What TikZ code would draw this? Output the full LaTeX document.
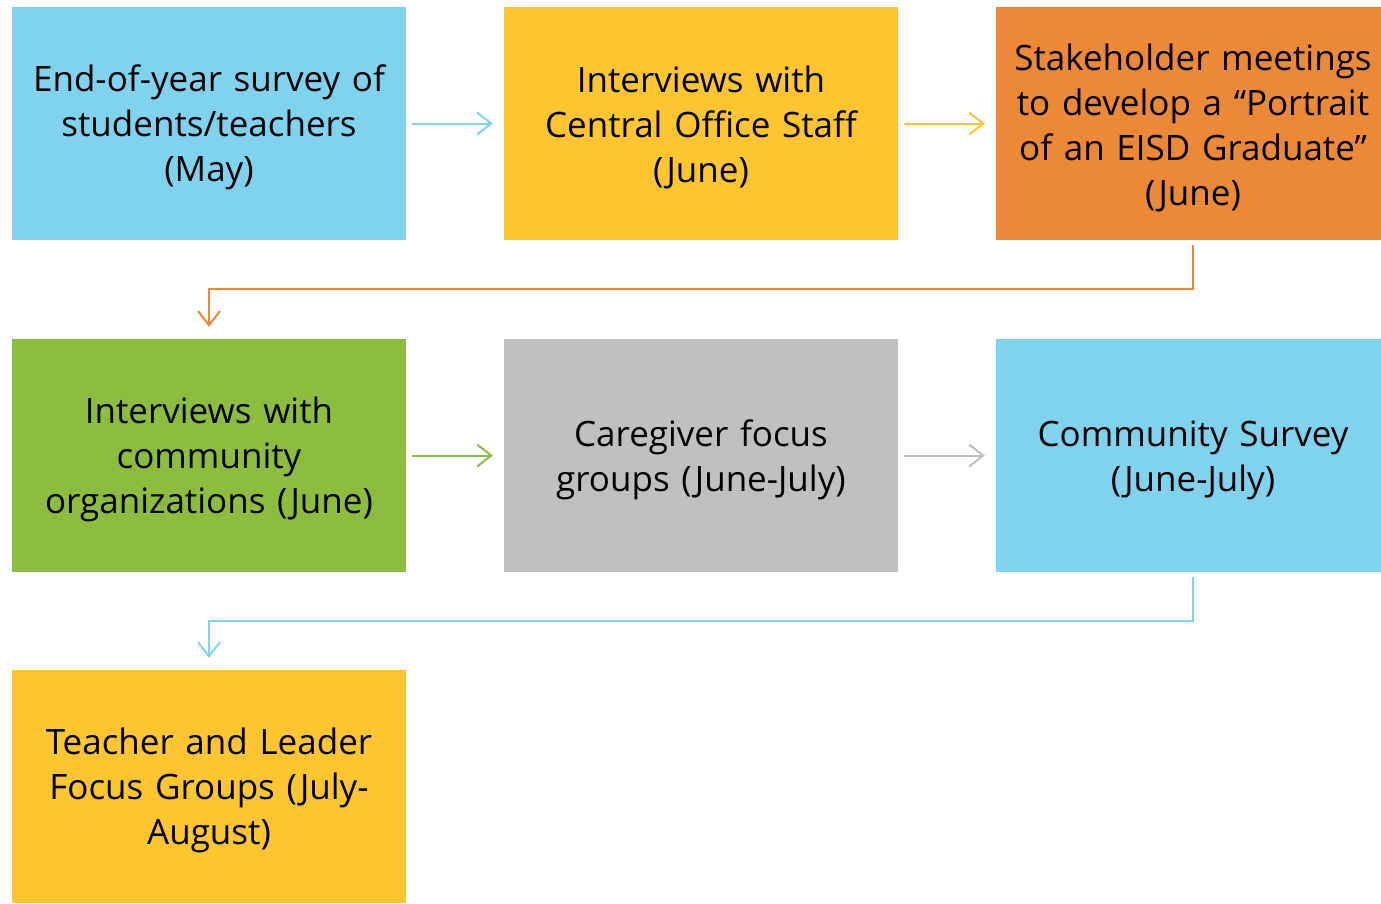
\documentclass[tikz,border=0pt]{standalone}
\usepackage{fontspec}
\setmainfont{Open Sans}
\usetikzlibrary{arrows.meta,positioning,calc}
\definecolor{skyblue}{HTML}{7FD3EC}
\definecolor{sunyellow}{HTML}{FDC530}
\definecolor{tangerine}{HTML}{EB8936}
\definecolor{leafgreen}{HTML}{8DBD3E}
\definecolor{stonegray}{HTML}{BFC0C2}
\tikzset{
    stepbox/.style={fill=#1, minimum width=394pt, minimum height=233pt, inner sep=0pt,
        align=center, text width=385pt, font=\fontsize{35}{45}\selectfont,
        execute at begin node={\rule{0pt}{35pt}}},
    arr/.style={-{Straight Barb[length=14pt,width=22pt]}, line width=2pt, draw=#1},
    hop/.style={arr=#1, shorten <=6pt, shorten >=11pt},
    bend/.style={arr=#1, shorten <=5pt, shorten >=12pt},
}

\begin{document}
\begin{tikzpicture}[x=1pt,y=-1pt]
        \useasboundingbox (0,0) rectangle (1381,903);
        \begin{scope}
        \clip (0,0) rectangle (1381,903);

        % first row
        \node[stepbox=skyblue] (survey) at (209,123.5) {End-of-year survey of\\students/teachers\\(May)};
        \node[stepbox=sunyellow] (central) at (701,123.5) {Interviews with\\Central Office Staff\\(June)};
        \node[stepbox=tangerine] (stake) at (1193,123.5) {Stakeholder meetings\\to develop a “Portrait\\of an EISD Graduate”\\(June)};

        % second row
        \node[stepbox=leafgreen] (commorg) at (209,455.5) {Interviews with\\community\\organizations (June)};
        \node[stepbox=stonegray] (caregiver) at (701,455.5) {Caregiver focus\\groups (June-July)};
        \node[stepbox=skyblue] (commsurvey) at (1193,455.5) {Community Survey\\(June-July)};

        % third row
        \node[stepbox=sunyellow] (leaders) at (209,786.5) {Teacher and Leader\\Focus Groups (July-\\August)};
        \end{scope}

        \draw[hop=skyblue] (survey.east) -- (central.west);
        \draw[hop=sunyellow] (central.east) -- (stake.west);
        \draw[bend=tangerine] (stake.south) -- ++(0,49) -| (commorg.north);

        \draw[hop=leafgreen] (commorg.east) -- (caregiver.west);
        \draw[hop=stonegray] (caregiver.east) -- (commsurvey.west);
        \draw[bend=skyblue] (commsurvey.south) -- ++(0,49) -| (leaders.north);
\end{tikzpicture}
\end{document}
